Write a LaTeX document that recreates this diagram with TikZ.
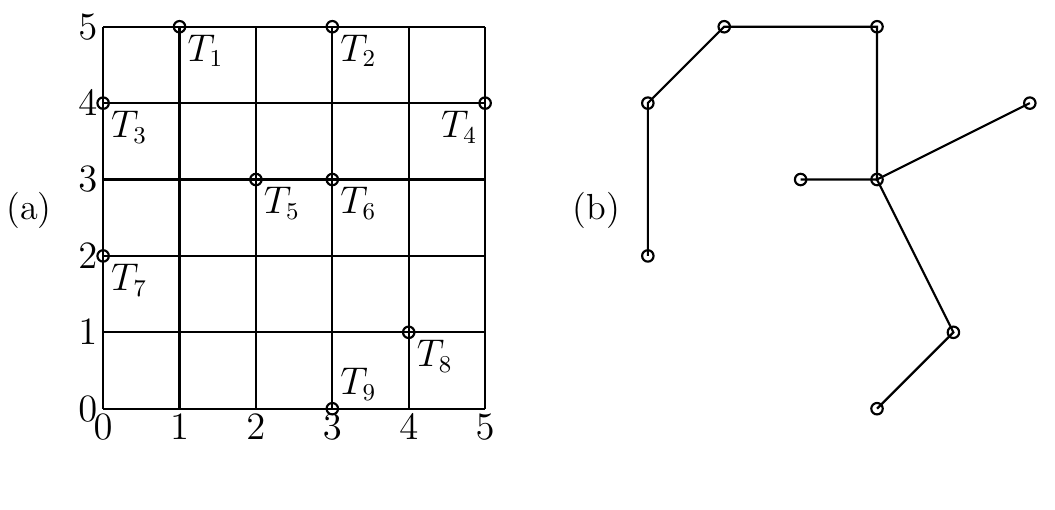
\documentclass[tikz,border=0pt]{standalone}
\begin{document}
\begin{tikzpicture}[font=\fontsize{13.5}{16}\selectfont,
  pt/.style={circle,draw,thick,inner sep=0pt,minimum size=1.5mm},
  lbl/.style={below right,inner sep=1pt}]
 \useasboundingbox (-1.35,-1.32) rectangle (12.46,5.35);
 % (a) grid with terminals
 \draw [step=1cm,thick](0,0) grid (5,5);
 \foreach \i in {0,...,5} {
  \node[below,inner sep=2pt] at (\i,0) {$\i$};
  \node[left,inner sep=2pt] at (0,\i) {$\i$};
 }
 \node (a) at (-0.97,2.6) {(a)};
 \foreach \n/\x/\y in {1/1/5,2/3/5,3/0/4,4/5/4,5/2/3,6/3/3,7/0/2,8/4/1,9/3/0}
  \node[pt] (T\n) at (\x,\y) {};
 \foreach \n in {1,2,3,5,6,7,8}
  \node[lbl] at (T\n.south east) {$T_\n$};
 \node[below left,inner sep=1pt] at (T4.south west) {$T_4$};
 \node[above right,inner sep=1pt] at (T9.north east) {$T_9$};
 % (b) tree
 \begin{scope}[xshift=7.13cm]
  \node (b) at (-0.67,2.6) {(b)};
  \foreach \n/\x/\y in {1/1/5,2/3/5,3/0/4,4/5/4,5/2/3,6/3/3,7/0/2,8/4/1,9/3/0}
   \node[pt] (S\n) at (\x,\y) {};
  \draw[thick] (S7.center)--(S3.center)--(S1.center)--(S2.center)--(S6.center)--(S4.center)
   (S5.center)--(S6.center)--(S8.center)--(S9.center);
 \end{scope}
\end{tikzpicture}
\end{document}
